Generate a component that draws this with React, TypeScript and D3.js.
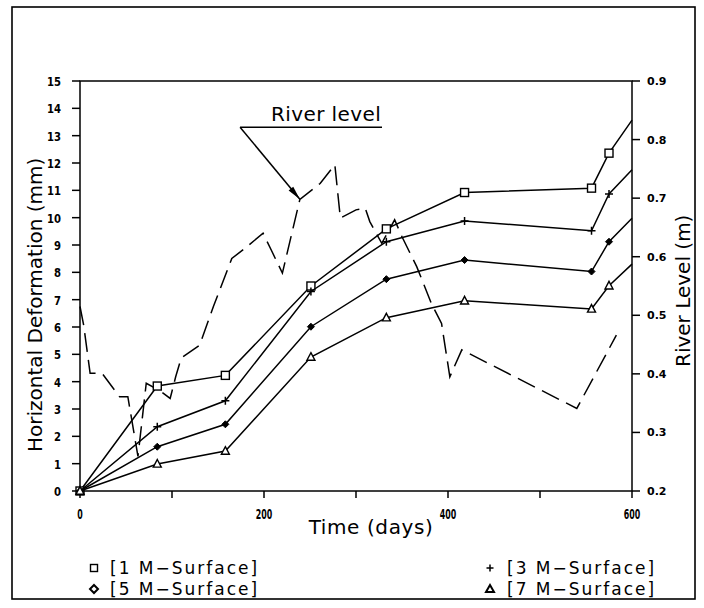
import React from 'react';
import * as d3 from 'd3';

// days at which the four surface points were measured
const DAYS = [0, 84, 158, 251, 333, 418, 556, 575, 600];
const SURFACE_1 = [0, 3.84, 4.23, 7.5, 9.59, 10.92, 11.08, 12.36, 13.57];
const SURFACE_3 = [0, 2.35, 3.3, 7.3, 9.12, 9.88, 9.52, 10.87, 11.75];
const SURFACE_5 = [0, 1.62, 2.44, 6.01, 7.75, 8.45, 8.03, 9.12, 9.98];
const SURFACE_7 = [0, 0.99, 1.46, 4.9, 6.34, 6.96, 6.66, 7.51, 8.3];

// river level (right axis)
const RIVER_DAYS = [0, 4, 11, 24, 43, 52, 63, 72, 88, 98, 104, 110, 130, 145, 165, 179, 199, 208, 220, 239, 261, 277, 283, 300, 310, 315, 328, 342, 350, 366, 382, 393, 402, 415, 540, 583];
const RIVER_LEVEL = [0.515, 0.483, 0.401, 0.401, 0.361, 0.361, 0.259, 0.384, 0.37, 0.358, 0.395, 0.427, 0.449, 0.515, 0.597, 0.614, 0.64, 0.611, 0.572, 0.698, 0.725, 0.757, 0.666, 0.68, 0.683, 0.66, 0.623, 0.663, 0.634, 0.583, 0.52, 0.486, 0.395, 0.441, 0.341, 0.466];

const DAY_TICKS = [0, 100, 200, 300, 400, 500, 600];
const DAY_LABELS = [0, 200, 400, 600];
const DEFORM_TICKS = d3.range(0, 16);
const LEVEL_TICKS = [0.2, 0.3, 0.4, 0.5, 0.6, 0.7, 0.8, 0.9];

const LEGEND = ['[1 M\u2212Surface]', '[3 M\u2212Surface]', '[5 M\u2212Surface]', '[7 M\u2212Surface]'];

const W = 704;
const H = 608;
const FONT = "'DejaVu Sans', sans-serif";
const NUM_FONT = "'DejaVu Sans Condensed', 'DejaVu Sans', sans-serif";

const x = d3.scaleLinear().domain([0, 600]).range([80, 632]);
const yL = d3.scaleLinear().domain([0, 15]).range([491, 81]);
const yR = d3.scaleLinear().domain([0.2, 0.9]).range([491, 81]);

const marker = (kind: string, cx: number, cy: number, s: number) => {
  if (kind === 'square')
    return <rect x={cx - s / 2} y={cy - s / 2} width={s} height={s} fill="white" stroke="black" strokeWidth={1.4} />;
  if (kind === 'plus')
    return (
      <path d={`M${cx - s / 2},${cy}H${cx + s / 2}M${cx},${cy - s / 2}V${cy + s / 2}`} stroke="black" strokeWidth={1.5} />
    );
  if (kind === 'diamond')
    return (
      <path d={`M${cx},${cy - s / 2}L${cx + s / 2},${cy}L${cx},${cy + s / 2}L${cx - s / 2},${cy}Z`} fill="black" stroke="black" strokeWidth={1} />
    );
  return (
    <path d={`M${cx},${cy - s * 0.55}L${cx + s / 2},${cy + s * 0.4}L${cx - s / 2},${cy + s * 0.4}Z`} fill="white" stroke="black" strokeWidth={1.4} />
  );
};

const App = () => {
  const series = [
    { kind: 'square', values: SURFACE_1 },
    { kind: 'plus', values: SURFACE_3 },
    { kind: 'diamond', values: SURFACE_5 },
    { kind: 'triangle', values: SURFACE_7 },
  ];

  const line = d3
    .line<number>()
    .x((_, i) => x(DAYS[i]))
    .y(d => yL(d));

  const river = d3
    .line<number>()
    .x((_, i) => x(RIVER_DAYS[i]))
    .y(d => yR(d));

  // annotation: leader from label to river point at day 239
  const tipIdx = RIVER_DAYS.indexOf(239);
  const tip = [x(RIVER_DAYS[tipIdx]), yR(RIVER_LEVEL[tipIdx])];
  const start = [x(174), yR(0.821)];
  const dx = tip[0] - start[0];
  const dy = tip[1] - start[1];
  const len = Math.hypot(dx, dy);
  const ux = dx / len;
  const uy = dy / len;
  const hb = [tip[0] - ux * 14, tip[1] - uy * 14];
  const head = `M${tip[0]},${tip[1]}L${hb[0] - uy * 3},${hb[1] + ux * 3}L${hb[0] + uy * 3},${hb[1] - ux * 3}Z`;

  return (
    <svg width={W} height={H} style={{ position: 'absolute', left: 0, top: 0, background: 'white' }}>
      <rect x={12} y={7} width={683} height={592} fill="none" stroke="black" strokeWidth={1.6} />

      {/* plot frame */}
      <rect x={80} y={81} width={552} height={410} fill="none" stroke="black" strokeWidth={1.5} />

      {/* left axis */}
      {DEFORM_TICKS.map(t => (
        <g key={'l' + t}>
          <line x1={72} x2={80} y1={yL(t)} y2={yL(t)} stroke="black" strokeWidth={1.5} />
          <text x={61} y={yL(t) + 5} textAnchor="end" fontFamily={NUM_FONT} fontWeight="bold" fontSize={13}
            textLength={String(t).length * 7} lengthAdjust="spacingAndGlyphs">
            {t}
          </text>
        </g>
      ))}

      {/* right axis */}
      {LEVEL_TICKS.map(t => (
        <g key={'r' + t}>
          <line x1={632} x2={640} y1={yR(t)} y2={yR(t)} stroke="black" strokeWidth={1.5} />
          <text x={647} y={yR(t) + 4} fontFamily={FONT} fontWeight="bold" fontSize={11}>
            {t.toFixed(1)}
          </text>
        </g>
      ))}

      {/* bottom axis */}
      {DAY_TICKS.map(t => (
        <line key={'b' + t} x1={x(t)} x2={x(t)} y1={491} y2={498} stroke="black" strokeWidth={1.5} />
      ))}
      {DAY_LABELS.map(t => (
        <text key={'bl' + t} x={x(t)} y={519} textAnchor="middle" fontFamily={NUM_FONT} fontWeight="bold" fontSize={14}
          textLength={String(t).length * 5.5} lengthAdjust="spacingAndGlyphs">
          {t}
        </text>
      ))}

      {/* titles */}
      <text x={371} y={534} textAnchor="middle" fontFamily={FONT} fontSize={20} letterSpacing={0.6}>
        Time (days)
      </text>
      <text transform="translate(42,452) rotate(-90)" fontFamily={FONT} fontSize={20}>
        Horizontal Deformation (mm)
      </text>
      <text transform="translate(690,367) rotate(-90)" fontFamily={FONT} fontSize={20}>
        River Level (m)
      </text>

      {/* river level */}
      <path d={river(RIVER_LEVEL) || ''} fill="none" stroke="black" strokeWidth={1.5} strokeDasharray="19,8" />

      {/* deformation series */}
      {series.map(s => (
        <g key={s.kind}>
          <path d={line(s.values) || ''} fill="none" stroke="black" strokeWidth={1.5} />
          {s.values.slice(0, -1).map((v, i) => (
            <g key={i}>{marker(s.kind, x(DAYS[i]), yL(v), s.kind === 'diamond' ? 7 : 8)}</g>
          ))}
        </g>
      ))}

      {/* annotation */}
      <text x={271} y={121} fontFamily={FONT} fontSize={20} letterSpacing={0.4}>
        River level
      </text>
      <line x1={start[0]} y1={start[1]} x2={382} y2={start[1]} stroke="black" strokeWidth={1.5} />
      <line x1={start[0]} y1={start[1]} x2={tip[0]} y2={tip[1]} stroke="black" strokeWidth={1.5} />
      <path d={head} fill="black" />

      {/* legend */}
      {LEGEND.map((label, i) => {
        const col = i % 2;
        const row = Math.floor(i / 2);
        const sx = col === 0 ? 94 : 490;
        const tx = col === 0 ? 110 : 507;
        const by = 574 + row * 21;
        const kind = series[i].kind;
        return (
          <g key={label}>
            {kind === 'diamond' ? (
              <path d={`M${sx},${by - 10}L${sx + 4},${by - 6}L${sx},${by - 2}L${sx - 4},${by - 6}Z`} fill="white" stroke="black" strokeWidth={2} />
            ) : kind === 'triangle' ? (
              <path d={`M${sx},${by - 10}L${sx + 4},${by - 3}L${sx - 4},${by - 3}Z`} fill="white" stroke="black" strokeWidth={2} />
            ) : (
              marker(kind, sx, by - 6, 7)
            )}
            <text x={tx} y={by} fontFamily={FONT} fontSize={17} letterSpacing={2}>
              {label}
            </text>
          </g>
        );
      })}
    </svg>
  );
};

export default App;
